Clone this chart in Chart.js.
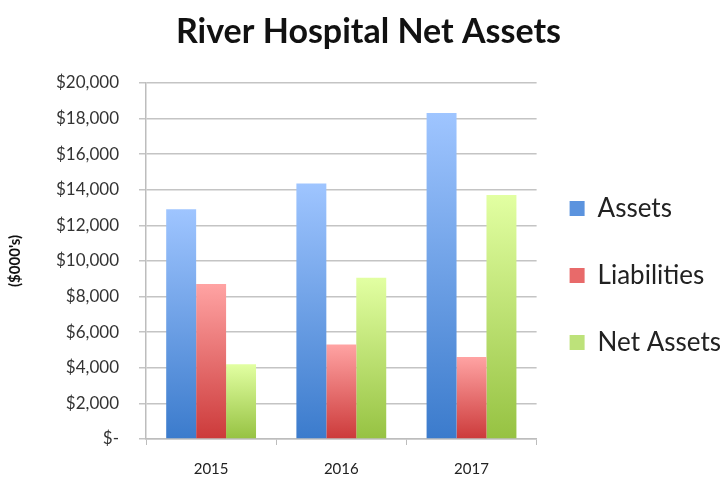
<!DOCTYPE html>
<html>
<head>
<meta charset="utf-8">
<script src="https://cdn.jsdelivr.net/npm/chart.js@4"></script>
<style>
  html, body { margin: 0; padding: 0; background: #fff; }
  #wrap { width: 723px; height: 481px; }
</style>
</head>
<body>
<div id="wrap"><canvas id="chart" width="723" height="481"></canvas></div>
<script>
const years = ['2015', '2016', '2017'];
const assets = [12900, 14350, 18300];
const liabilities = [8700, 5300, 4600];
const netAssets = [4200, 9050, 13700];
const tickValues = [0, 2000, 4000, 6000, 8000, 10000, 12000, 14000, 16000, 18000, 20000];

const topColors = ['#9fc5ff', '#ffa3a3', '#e2ffa2'];
const bottomColors = ['#3b7bcc', '#cc3a3a', '#96c242'];
const legendColors = ['#5b93de', '#e86a6a', '#bde27a'];

// light at the top, dark at the bottom, per bar
function barGradient(i) {
    return function(context) {
        const chart = context.chart;
        if (!chart.chartArea || context.parsed === undefined) return topColors[i];
        const y = chart.scales.y;
        const top = y.getPixelForValue(context.parsed.y);
        const bottom = y.getPixelForValue(0);
        if (!isFinite(top) || top === bottom) return topColors[i];
        const g = chart.ctx.createLinearGradient(0, top, 0, bottom);
        g.addColorStop(0, topColors[i]);
        g.addColorStop(1, bottomColors[i]);
        return g;
    };
}

function money(value) {
    if (value === 0) return '$-';
    return '$' + value.toLocaleString('en-US');
}

const ctx = document.getElementById('chart').getContext('2d');
new Chart(ctx, {
    type: 'bar',
    data: {
        labels: years,
        datasets: [
            { label: 'Assets', data: assets, backgroundColor: barGradient(0) },
            { label: 'Liabilities', data: liabilities, backgroundColor: barGradient(1) },
            { label: 'Net Assets', data: netAssets, backgroundColor: barGradient(2) }
        ]
    },
    options: {
        responsive: false,
        animation: false,
        layout: { padding: { left: 6, right: -8, top: 10, bottom: -12 } },
        datasets: {
            bar: { categoryPercentage: 0.69, barPercentage: 1.0, borderWidth: 0 }
        },
        plugins: {
            title: {
                display: true,
                text: 'River Hospital Net Assets',
                color: '#111',
                font: { family: 'Lato', size: 34, weight: 'bold' },
                padding: { top: 2, bottom: 30 }
            },
            legend: {
                position: 'right',
                maxWidth: 220,
                title: {
                    display: true,
                    text: ' ',
                    font: { size: 10 },
                    padding: 22
                },
                labels: {
                    color: '#222',
                    font: { family: 'Lato', size: 26, lineHeight: '34px' },
                    boxWidth: 15,
                    boxHeight: 15,
                    padding: 33,
                    generateLabels: function(chart) {
                        return chart.data.datasets.map((ds, i) => ({
                            text: [ds.label],
                            fillStyle: legendColors[i],
                            strokeStyle: 'rgba(0,0,0,0)',
                            lineWidth: 0,
                            datasetIndex: i,
                            fontColor: '#222'
                        }));
                    }
                }
            },
            tooltip: { enabled: false }
        },
        scales: {
            x: {
                grid: {
                    drawOnChartArea: false,
                    drawTicks: true,
                    tickLength: 6,
                    color: '#bdbdbd'
                },
                border: { color: '#bdbdbd', width: 1.5 },
                ticks: {
                    color: '#222',
                    font: { family: 'Lato', size: 15 },
                    padding: 15
                }
            },
            y: {
                min: 0,
                max: 20000,
                afterBuildTicks: function(axis) {
                    axis.ticks = tickValues.map(v => ({ value: v }));
                },
                grid: {
                    color: '#c4c4c4',
                    lineWidth: 1.5,
                    tickLength: 7
                },
                border: { color: '#bdbdbd', width: 1.5 },
                ticks: {
                    color: '#333',
                    font: { family: 'Lato', size: 17 },
                    padding: 20,
                    callback: function(value) { return money(value); }
                },
                title: {
                    display: true,
                    text: "($000's)",
                    color: '#111',
                    font: { family: 'Lato', size: 15, weight: 'bold' },
                    padding: { top: 0, bottom: 12 }
                }
            }
        }
    }
});
</script>
</body>
</html>
